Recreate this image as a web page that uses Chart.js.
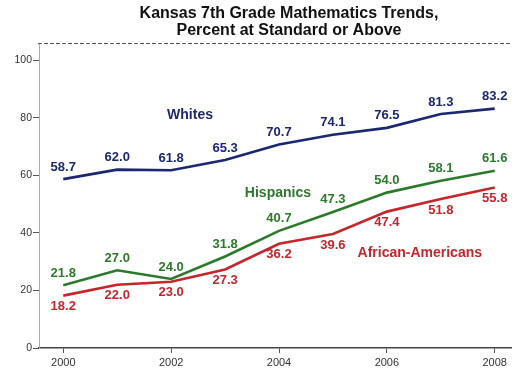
<!DOCTYPE html>
<html>
<head>
<meta charset="utf-8">
<script src="https://cdn.jsdelivr.net/npm/chart.js@4/dist/chart.umd.min.js"></script>
<style>
html,body{margin:0;padding:0;background:#fff;}
#wrap{width:512px;height:372px;position:relative;}
</style>
</head>
<body>
<div id="wrap"><canvas id="c" width="512" height="372"></canvas></div>
<script>
const years = [2000, 2001, 2002, 2003, 2004, 2005, 2006, 2007, 2008];
const whites = [58.7, 62.0, 61.8, 65.3, 70.7, 74.1, 76.5, 81.3, 83.2];
const hispanics = [21.8, 27.0, 24.0, 31.8, 40.7, 47.3, 54.0, 58.1, 61.6];
const africanAmericans = [18.2, 22.0, 23.0, 27.3, 36.2, 39.6, 47.4, 51.8, 55.8];
const xTickLabels = [2000, 2002, 2004, 2006, 2008];
const yTickLabels = [0, 20, 40, 60, 80, 100];
const seriesNames = ['Whites', 'Hispanics', 'African-Americans'];
const titleLines = ['Kansas 7th Grade Mathematics Trends,', 'Percent at Standard or Above'];

const colors = ['#1b2770', '#2b7a2b', '#c4262b'];
const labelOffsets = [-12, -12, 11];
const nameAnchors = [[2002.35, 80.9], [2003.98, 53.8], [2006.61, 33.0]];

const seriesData = [whites, hispanics, africanAmericans];

const overlay = {
  id: 'overlay',
  afterDraw(chart) {
    const ctx = chart.ctx;
    const xs = chart.scales.x, ys = chart.scales.y;
    const ca = chart.chartArea;
    ctx.save();
    // top dashed border
    ctx.strokeStyle = '#555';
    ctx.lineWidth = 1;
    ctx.setLineDash([4, 2]);
    ctx.beginPath();
    ctx.moveTo(ca.left - 1, ca.top + 0.5);
    ctx.lineTo(ca.right, ca.top + 0.5);
    ctx.stroke();
    ctx.setLineDash([]);
    // title
    ctx.fillStyle = '#111';
    ctx.font = 'bold 16px "Liberation Sans", Arial, sans-serif';
    ctx.textAlign = 'center';
    ctx.textBaseline = 'middle';
    ctx.fillText(titleLines[0], 289, 14);
    ctx.fillText(titleLines[1], 289, 31);
    // value labels
    ctx.font = 'bold 13px "Liberation Sans", Arial, sans-serif';
    chart.data.datasets.forEach((ds, i) => {
      const meta = chart.getDatasetMeta(i);
      ctx.fillStyle = colors[i];
      meta.data.forEach((pt, j) => {
        ctx.fillText(seriesData[i][j].toFixed(1), pt.x, pt.y + labelOffsets[i]);
      });
    });
    // series names
    ctx.font = 'bold 14px "Liberation Sans", Arial, sans-serif';
    seriesNames.forEach((n, i) => {
      ctx.fillStyle = colors[i];
      ctx.fillText(n, xs.getPixelForValue(nameAnchors[i][0]), ys.getPixelForValue(nameAnchors[i][1]));
    });
    ctx.restore();
  }
};

new Chart(document.getElementById('c'), {
  type: 'line',
  data: {
    datasets: seriesData.map((d, i) => ({
      label: seriesNames[i],
      data: years.map((y, j) => ({ x: y, y: d[j] })),
      borderColor: colors[i],
      borderWidth: 2.6,
      pointRadius: 0,
      tension: 0,
      fill: false
    }))
  },
  options: {
    responsive: false,
    animation: false,
    layout: { padding: { top: 43, right: 0, left: 0, bottom: 0 } },
    plugins: { legend: { display: false }, tooltip: { enabled: false }, title: { display: false } },
    scales: {
      x: {
        type: 'linear',
        min: 1999.55,
        max: 2008.32,
        afterBuildTicks(s) { s.ticks = xTickLabels.map(v => ({ value: v })); },
        afterFit(s) { s.height = 24; },
        ticks: {
          callback: v => String(v),
          color: '#333',
          font: { size: 11, family: '"Liberation Sans", Arial, sans-serif' },
          padding: 3,
          maxRotation: 0,
          autoSkip: false
        },
        grid: { display: true, drawOnChartArea: false, drawTicks: true, tickLength: 5, color: '#555' },
        border: { display: true, color: '#444', width: 1.5 }
      },
      y: {
        min: 0,
        max: 106,
        afterBuildTicks(s) { s.ticks = yTickLabels.map(v => ({ value: v })); },
        afterFit(s) { s.width = 39; },
        ticks: {
          color: '#333',
          font: { size: 10.5, family: '"Liberation Sans", Arial, sans-serif' },
          padding: 1
        },
        grid: { display: true, drawOnChartArea: false, drawTicks: true, tickLength: 6, color: '#555' },
        border: { display: true, color: '#aab', width: 1, dash: [1, 2] }
      }
    }
  },
  plugins: [overlay]
});
</script>
</body>
</html>
